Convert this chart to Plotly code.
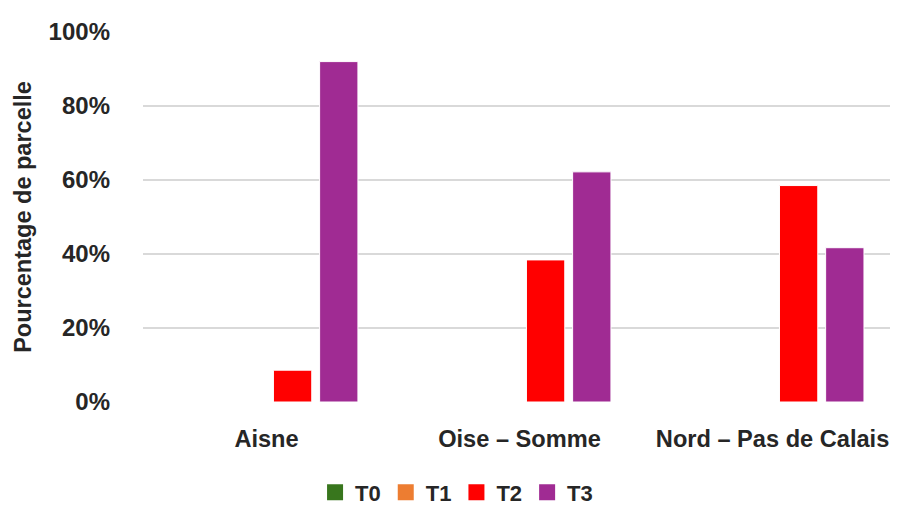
import plotly.graph_objects as go

categories = ["Aisne", "Oise – Somme", "Nord – Pas de Calais"]
series_names = ["T0", "T1", "T2", "T3"]
t0 = [0.0, 0.0, 0.0]
t1 = [0.0, 0.0, 0.0]
t2 = [0.086, 0.384, 0.585]
t3 = [0.920, 0.622, 0.417]
colors = ["#38761d", "#ed7d31", "#ff0000", "#a02b93"]
tick_vals = [0, 0.2, 0.4, 0.6, 0.8, 1.0]
tick_text = ["0%", "20%", "40%", "60%", "80%", "100%"]

font_family = "Liberation Sans, Arial, sans-serif"
txt_color = "#262626"

fig = go.Figure()
for name, vals, col in zip(series_names, [t0, t1, t2, t3], colors):
    fig.add_trace(go.Bar(
        x=categories, y=vals, name=name, showlegend=False,
        marker=dict(color=col, line=dict(color="white", width=1)),
    ))
# legend entries with larger square swatches
for name, col in zip(series_names, colors):
    fig.add_trace(go.Scatter(
        x=[None], y=[None], mode="markers", name=name,
        marker=dict(symbol="square", size=16, color=col),
    ))

# page body has an 8px margin; size the figure so it fits the 898x506 window
fig.update_layout(
    width=890, height=498,
    margin=dict(l=135, r=0, t=24, b=104),
    paper_bgcolor="white", plot_bgcolor="white",
    barmode="group", bargap=0.27, bargroupgap=0.17,
    font=dict(family=font_family, color=txt_color),
    showlegend=True,
    legend=dict(orientation="h", x=0.504, xref="container", xanchor="center",
                y=0.027, yref="container", yanchor="middle",
                font=dict(size=22, family=font_family, color=txt_color, weight="bold"),
                itemwidth=30, traceorder="normal"),
    xaxis=dict(type="category", range=[-0.5, 2.484], showgrid=False,
               showline=False, ticks="", automargin=False, ticklabelstandoff=20,
               ticklabelshift=-3,
               tickfont=dict(size=23.6, family=font_family, color=txt_color, weight="bold")),
    yaxis=dict(range=[0, 1.0], tickvals=tick_vals, ticktext=tick_text,
               showgrid=True, gridcolor="#d9d9d9", gridwidth=1.5,
               zeroline=False, showline=False, ticks="", automargin=False,
               ticklabelstandoff=32,
               tickfont=dict(size=24, family=font_family, color=txt_color, weight="bold"),
               title=dict(text="Pourcentage de parcelle", standoff=10,
                          font=dict(size=23.5, family=font_family, color=txt_color, weight="bold"))),
)

fig.write_html("out.html")
